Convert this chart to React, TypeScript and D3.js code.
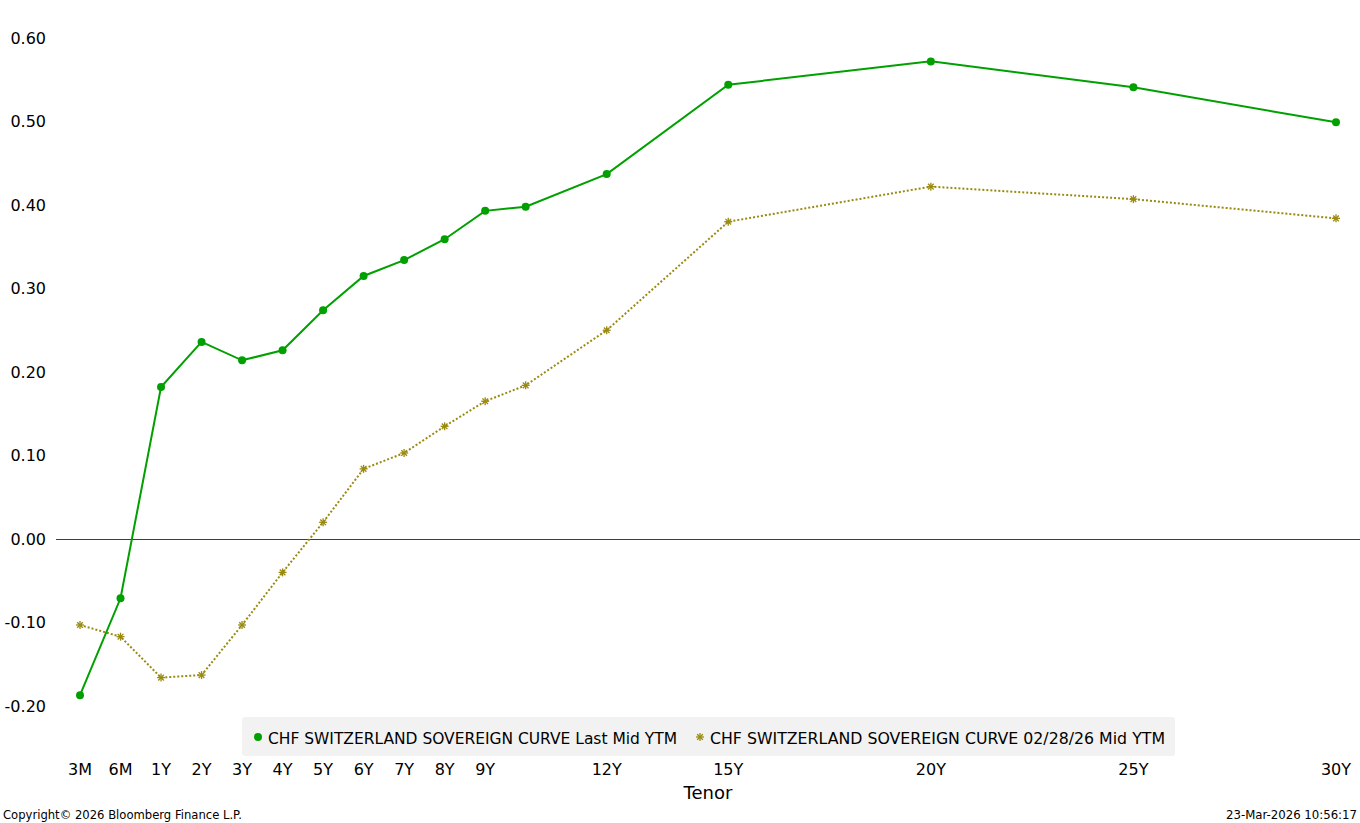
import React from "react";
import * as d3 from "d3";

const tenors = ["3M","6M","1Y","2Y","3Y","4Y","5Y","6Y","7Y","8Y","9Y","10Y","12Y","15Y","20Y","25Y","30Y"];
const tenorPos = [-1,0,1,2,3,4,5,6,7,8,9,10,12,15,20,25,30];
const tickLabels = ["3M","6M","1Y","2Y","3Y","4Y","5Y","6Y","7Y","8Y","9Y","12Y","15Y","20Y","25Y","30Y"];
const lastMid = [-0.187,-0.071,0.182,0.236,0.214,0.226,0.274,0.315,0.334,0.359,0.393,0.398,0.437,0.544,0.572,0.541,0.499];
const prevMid = [-0.103,-0.117,-0.166,-0.163,-0.103,-0.040,0.020,0.084,0.103,0.135,0.165,0.184,0.250,0.380,0.422,0.407,0.384];
const yTicks = [-0.2,-0.1,0,0.1,0.2,0.3,0.4,0.5,0.6];
const seriesNames = ["CHF SWITZERLAND SOVEREIGN CURVE Last Mid YTM","CHF SWITZERLAND SOVEREIGN CURVE 02/28/26 Mid YTM"];

const GREEN = "#00a000";
const OLIVE = "#9a8a10";
const FONT = "Tahoma, 'DejaVu Sans', sans-serif";

function Star({ x, y }: { x: number; y: number }) {
  const r = 4;
  const lines = [0, 45, 90, 135].map((a) => {
    const rad = (a * Math.PI) / 180;
    return (
      <line key={a} x1={x - r * Math.cos(rad)} y1={y - r * Math.sin(rad)} x2={x + r * Math.cos(rad)} y2={y + r * Math.sin(rad)} stroke={OLIVE} strokeWidth={1.3} />
    );
  });
  return <g>{lines}</g>;
}

export default function App() {
  const W = 1360, H = 823;
  const x = d3.scaleLinear().domain([-1, 30]).range([80, 1336]);
  const y = d3.scaleLinear().domain([-0.2, 0.6]).range([706, 38]);
  const idx = d3.range(tenors.length);
  const line = (vals: number[]) =>
    d3.line<number>().x((i) => x(tenorPos[i])).y((i) => y(vals[i]))(idx) || "";
  const fmt = (t: number) => d3.format(".2f")(t).replace("\u2212", "-");

  return (
    <svg width={W} height={H} style={{ position: "absolute", left: 0, top: 0, background: "#fff" }} fontFamily={FONT}>
      <rect width={W} height={H} fill="#fff" />
      {yTicks.map((t) => (
        <text key={t} x={46} y={y(t)} dy="0.35em" textAnchor="end" fontSize={16} fill="#000">
          {fmt(t)}
        </text>
      ))}
      <line x1={56} x2={1360} y1={y(0) + 0.5} y2={y(0) + 0.5} stroke="#d00000" strokeWidth={1} shapeRendering="crispEdges" />
      <path d={line(prevMid)} fill="none" stroke={OLIVE} strokeWidth={2} strokeDasharray="2,2" />
      <path d={line(lastMid)} fill="none" stroke={GREEN} strokeWidth={2} />
      {idx.map((i) => (
        <Star key={"s" + i} x={x(tenorPos[i])} y={y(prevMid[i])} />
      ))}
      {idx.map((i) => (
        <circle key={"c" + i} cx={x(tenorPos[i])} cy={y(lastMid[i])} r={4} fill={GREEN} />
      ))}
      {/* legend */}
      <rect x={242} y={717} width={933} height={39} rx={3} fill="#f2f2f2" />
      <circle cx={258} cy={737} r={4} fill={GREEN} />
      <text x={268} y={738} dy="0.35em" fontSize={16} fill="#000" textLength={409} lengthAdjust="spacingAndGlyphs">{seriesNames[0]}</text>
      <Star x={700} y={737} />
      <text x={710} y={738} dy="0.35em" fontSize={16} fill="#000" textLength={455} lengthAdjust="spacingAndGlyphs">{seriesNames[1]}</text>
      {/* x axis labels */}
      {tickLabels.map((l) => {
        const i = tenors.indexOf(l);
        return (
          <text key={l} x={x(tenorPos[i])} y={769} dy="0.35em" textAnchor="middle" fontSize={16} fill="#000">
            {l}
          </text>
        );
      })}
      <text x={708} y={793} dy="0.35em" textAnchor="middle" fontSize={18} fill="#000">Tenor</text>
      <text x={3} y={815} dy="0.35em" fontSize={12} fill="#000" textLength={239} lengthAdjust="spacingAndGlyphs">Copyright© 2026 Bloomberg Finance L.P.</text>
      <text x={1226} y={815} dy="0.35em" fontSize={12} fill="#000" textLength={131} lengthAdjust="spacingAndGlyphs">23-Mar-2026 10:56:17</text>
    </svg>
  );
}
